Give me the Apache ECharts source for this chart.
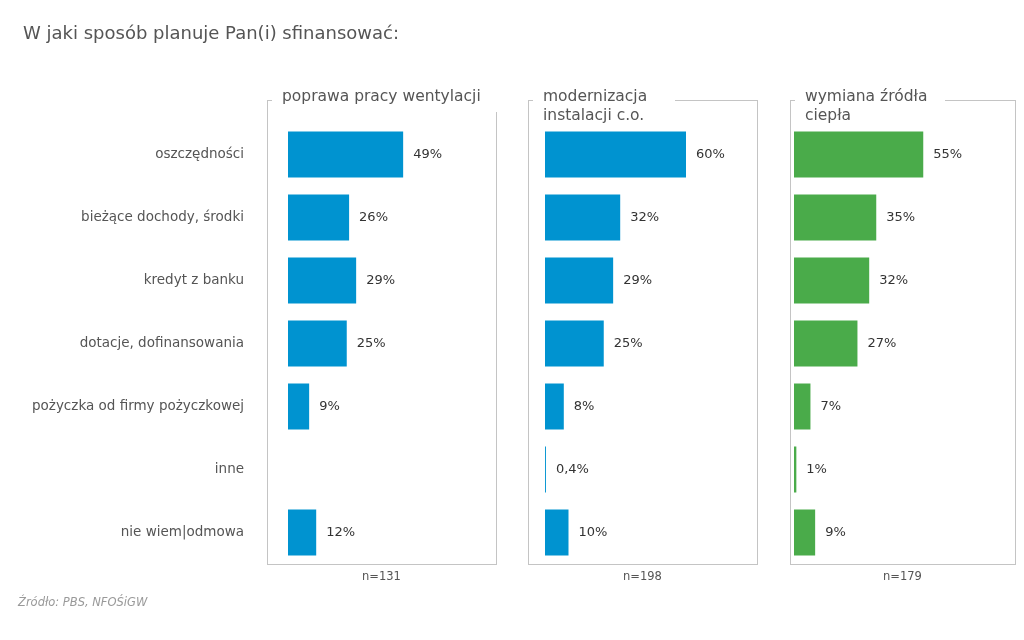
<!DOCTYPE html>
<html>
<head>
<meta charset="utf-8">
<script src="https://cdn.jsdelivr.net/npm/echarts@6/dist/echarts.min.js"></script>
<style>
  html, body { margin: 0; padding: 0; background: #fff; }
  #chart { width: 1024px; height: 640px; }
</style>
</head>
<body>
<div id="chart"></div>
<script>
const categories = [
  'oszczędności',
  'bieżące dochody, środki',
  'kredyt z banku',
  'dotacje, dofinansowania',
  'pożyczka od firmy pożyczkowej',
  'inne',
  'nie wiem|odmowa'
];
const panelTitles = ['poprawa pracy wentylacji', 'modernizacja\ninstalacji c.o.', 'wymiana źródła\nciepła'];
const sampleSizes = ['n=131', 'n=198', 'n=179'];
const ventilation = [49, 26, 29, 25, 9, null, 12];
const heating = [60, 32, 29, 25, 8, 0.4, 10];
const heatSource = [55, 35, 32, 27, 7, 1, 9];
const panelColors = ['#0093d0', '#0093d0', '#4aab4a'];

const font = 'DejaVu Sans';
const textColor = '#555';
const lineColor = '#c4c4c4';

// panel layout: bar start x, frame left/right
const panels = [
  { left: 288, frameL: 267, frameR: 496, topGapEnd: null, rightTop: 112 },
  { left: 545, frameL: 528, frameR: 757, topGapEnd: 675, rightTop: 100 },
  { left: 794, frameL: 790, frameR: 1015, topGapEnd: 945, rightTop: 100 }
];
const frameTop = 100, frameBottom = 564;
const pxPerPct = 2.35;
const maxPct = 80;

const chart = echarts.init(document.getElementById('chart'));

const seriesData = [ventilation, heating, heatSource];

const grids = panels.map(p => ({
  left: p.left, top: 123, height: 441, width: maxPct * pxPerPct
}));

const xAxes = panels.map((p, i) => ({
  type: 'value', gridIndex: i, min: 0, max: maxPct, show: false
}));

const yAxes = panels.map((p, i) => ({
  type: 'category', gridIndex: i, data: categories, inverse: true,
  axisLine: { show: false }, axisTick: { show: false },
  axisLabel: {
    show: i === 0, margin: 44, color: textColor, fontFamily: font, fontSize: 13.5
  }
}));

const series = seriesData.map((d, i) => ({
  type: 'bar', xAxisIndex: i, yAxisIndex: i, data: d, barWidth: 46,
  itemStyle: { color: panelColors[i] },
  label: {
    show: true, position: 'right', distance: 10, color: '#333',
    fontFamily: font, fontSize: 13,
    formatter: p => p.value == null ? '' : String(p.value).replace('.', ',') + '%'
  }
}));

const graphics = [];
const lineStyle = { stroke: lineColor, lineWidth: 1 };
panels.forEach((p, i) => {
  graphics.push({ type: 'line', shape: { x1: p.frameL + 0.5, y1: frameTop, x2: p.frameL + 0.5, y2: frameBottom + 0.5 }, style: lineStyle, silent: true });
  graphics.push({ type: 'line', shape: { x1: p.frameL, y1: frameTop + 0.5, x2: p.frameL + 5, y2: frameTop + 0.5 }, style: lineStyle, silent: true });
  graphics.push({ type: 'line', shape: { x1: p.frameR + 0.5, y1: p.rightTop, x2: p.frameR + 0.5, y2: frameBottom + 0.5 }, style: lineStyle, silent: true });
  graphics.push({ type: 'line', shape: { x1: p.frameL, y1: frameBottom + 0.5, x2: p.frameR + 1, y2: frameBottom + 0.5 }, style: lineStyle, silent: true });
  if (p.topGapEnd) {
    graphics.push({ type: 'line', shape: { x1: p.topGapEnd, y1: frameTop + 0.5, x2: p.frameR + 1, y2: frameTop + 0.5 }, style: lineStyle, silent: true });
  }
  graphics.push({
    type: 'text', left: p.frameL + 15, top: 87,
    style: { text: panelTitles[i], fill: textColor, font: '15.5px "' + font + '"', lineHeight: 19 }
  });
  graphics.push({
    type: 'text', x: (p.frameL + p.frameR) / 2, y: 577,
    style: { text: sampleSizes[i], fill: textColor, font: '11.5px "' + font + '"', align: 'center', verticalAlign: 'middle' }
  });
});
graphics.push({
  type: 'text', left: 18, top: 597,
  style: { text: 'Źródło: PBS, NFOŚiGW', fill: '#999', font: 'italic 11.5px "' + font + '"' }
});

chart.setOption({
  animation: false,
  title: {
    text: 'W jaki sposób planuje Pan(i) sfinansować:', left: 18, top: 20,
    textStyle: { color: textColor, fontFamily: font, fontSize: 18, fontWeight: 'normal' }
  },
  grid: grids,
  xAxis: xAxes,
  yAxis: yAxes,
  series: series,
  graphic: graphics
});
</script>
</body>
</html>
